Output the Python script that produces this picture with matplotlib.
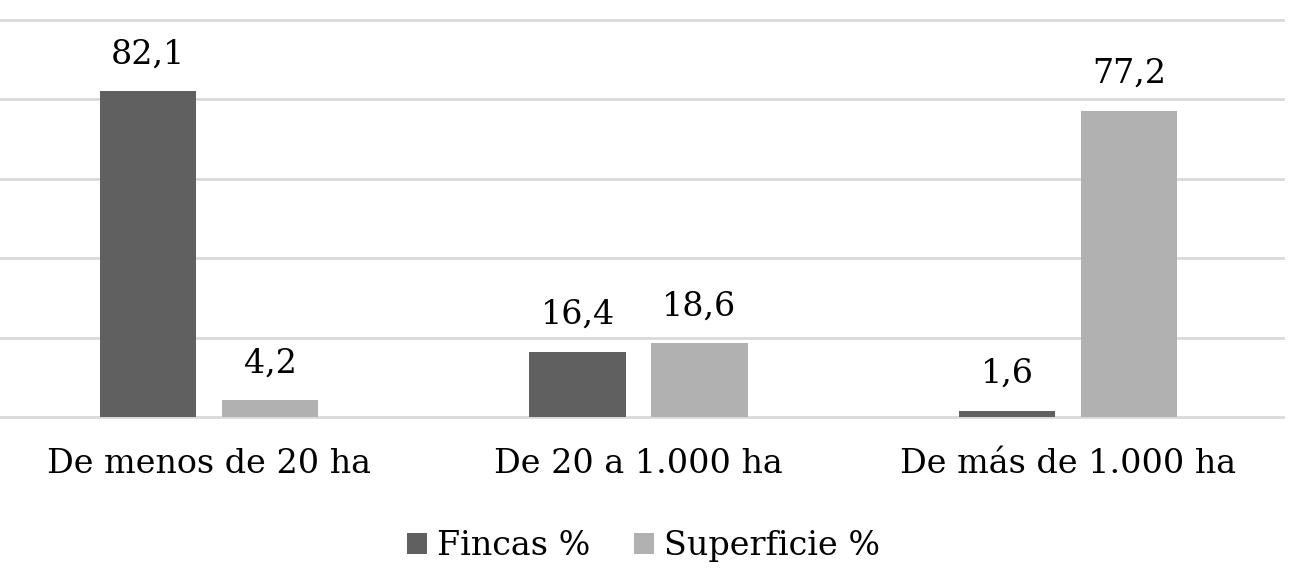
import matplotlib.pyplot as plt
import numpy as np

categories = ["De menos de 20 ha", "De 20 a 1.000 ha", "De más de 1.000 ha"]
fincas = [82.1, 16.4, 1.6]
superficie = [4.2, 18.6, 77.2]
series_names = ["Fincas %", "Superficie %"]
colors = ["#606060", "#b1b1b1"]

plt.rcParams["font.family"] = ["DejaVu Serif"]

fig = plt.figure(figsize=(13.03, 5.8), dpi=100)
ax = fig.add_axes([-0.0044, 0.281, 0.9889, 0.6845])

x = np.arange(len(categories))
width = 0.224
offset = 0.142

for vals, name, col, sign in zip([fincas, superficie], series_names, colors, [-1, 1]):
    bars = ax.bar(x + sign * offset, vals, width, color=col, label=name, zorder=3)
    for b, v in zip(bars, vals):
        ax.annotate(f"{v:.1f}".replace(".", ","),
                    (b.get_x() + b.get_width() / 2, b.get_height()),
                    xytext=(0, 20), textcoords="offset points",
                    ha="center", va="baseline", fontsize=24)

ax.set_xlim(-0.5, 2.5)
ax.set_ylim(0, 100)
ax.set_yticks(np.arange(0, 101, 20))
ax.yaxis.grid(True, color="#d9d9d9", linewidth=2)
for gl in ax.get_ygridlines():
    gl.set_clip_on(False)
ax.tick_params(axis="y", left=False, labelleft=False)
ax.set_xticks(x)
ax.set_xticklabels(categories, fontsize=24)
ax.tick_params(axis="x", bottom=False, pad=19)
for s in ax.spines.values():
    s.set_visible(False)

fig.legend(loc="center", bbox_to_anchor=(0.494, 0.058), ncol=2, frameon=False,
           fontsize=24, handlelength=0.6, handleheight=0.6, handletextpad=0.3,
           columnspacing=1.3)

fig.savefig("out.png", dpi=100)
